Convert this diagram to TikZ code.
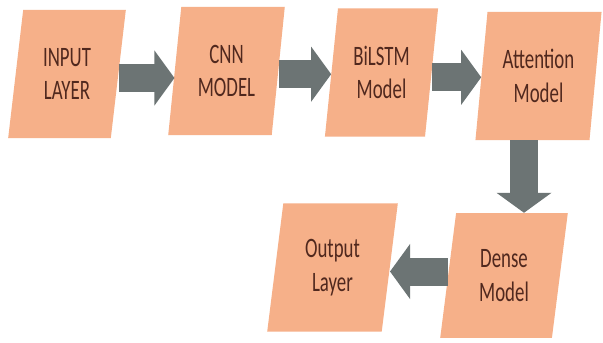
\documentclass[tikz,border=0pt]{standalone}
\usepackage{fontspec}
\usepackage{tikz}
\usetikzlibrary{arrows.meta,shapes.geometric}
\newfontfamily\boxfont[FakeStretch=0.67]{Carlito}
\definecolor{boxpeach}{RGB}{246,176,137}
\definecolor{boxink}{RGB}{80,40,30}
\definecolor{arrowgray}{RGB}{108,116,116}

\begin{document}
\begin{tikzpicture}[x=0.025cm,y=-0.025cm,
  stage/.style={trapezium,trapezium left angle=81,trapezium right angle=99,
    trapezium stretches=true,fill=boxpeach,draw=none,inner sep=0pt,
    minimum height=3.2cm,text=boxink,align=center,
    font=\boxfont\fontsize{20pt}{24pt}\selectfont},
  flowarrow/.style={arrowgray,line width=0.7cm,
    -{Triangle[length=0.5cm,width=1.35cm]}}]
\useasboundingbox[fill=white] (0,0) rectangle (603,342);
% top row
\node[stage,minimum width=2.95cm] (in) at (67,74) {INPUT\\LAYER};
\node[stage,minimum width=2.92cm] (cnn) at (226.5,71) {CNN\\MODEL};
\node[stage,minimum width=2.83cm] (bilstm) at (381.5,72.5) {BiLSTM\\Model};
\node[stage,minimum width=3.17cm] (att) at (538.5,76) {Attention\\Model};
% bottom row
\node[stage,minimum width=3.2cm,minimum height=3.12cm] (dense) at (504,275.5) {Dense\\Model};
\node[stage,minimum width=3.27cm] (out) at (332.5,267.5) {Output\\Layer};
\coordinate (drop) at (524,0);
% block arrows
\draw[flowarrow] ([yshift=-0.1cm]in.east) -- ([yshift=-0.1cm]in.east -| cnn.west);
\draw[flowarrow] ([yshift=-0.08cm]cnn.east) -- ([yshift=-0.08cm]cnn.east -| bilstm.west);
\draw[flowarrow] ([yshift=-0.12cm]bilstm.east) -- ([yshift=-0.12cm]bilstm.east -| att.west);
\draw[flowarrow] (att.south -| drop) -- (dense.north -| drop);
\draw[flowarrow] ([yshift=-0.1cm]dense.west |- out.east) -- ([yshift=-0.1cm]out.east);
\end{tikzpicture}
\end{document}
